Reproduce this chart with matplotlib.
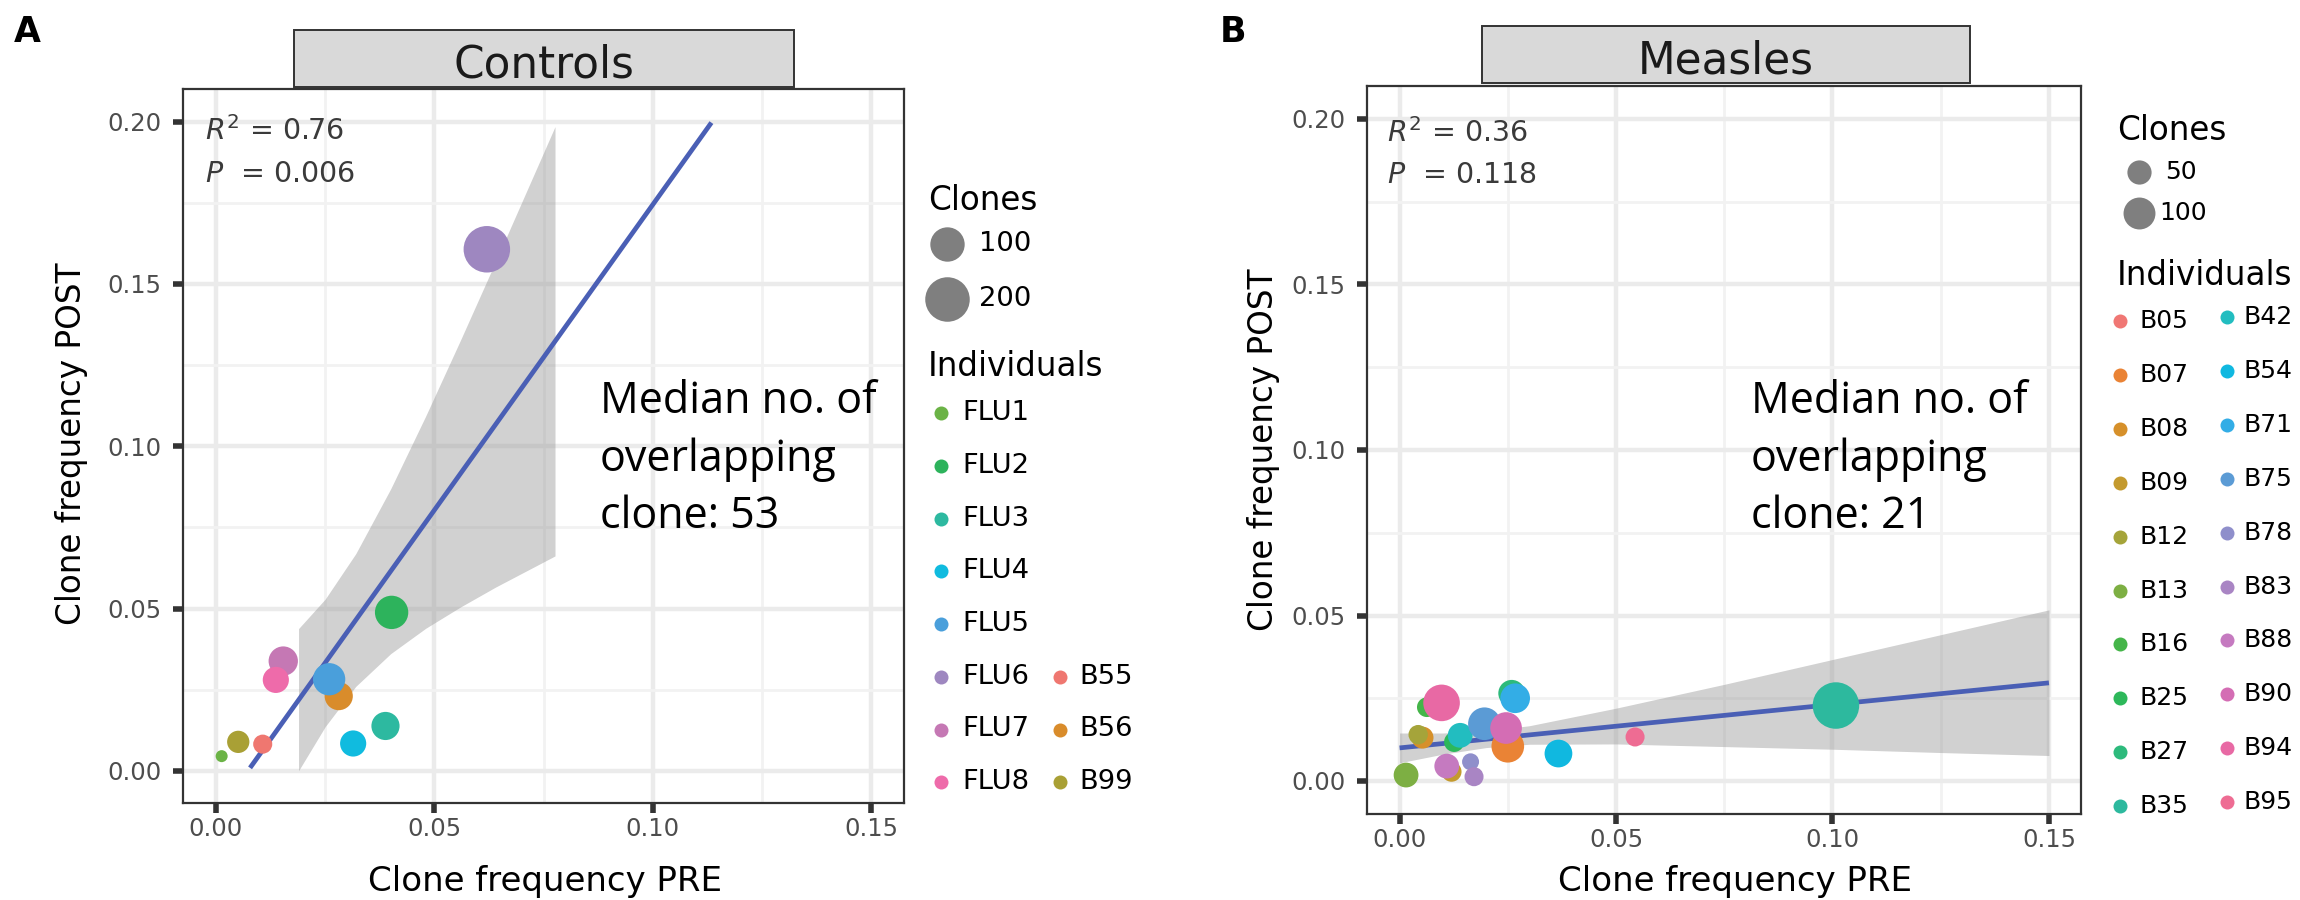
import numpy as np
import matplotlib
matplotlib.use("Agg")
import matplotlib.pyplot as plt
from matplotlib.patches import Rectangle

# ---------------- data: panel A (Controls) ----------------
ctrl_ids = ["B55", "B56", "B99", "FLU1", "FLU2", "FLU3", "FLU4", "FLU5", "FLU6", "FLU7", "FLU8"]
ctrl_pre = [0.0107, 0.0281, 0.0051, 0.0013, 0.0402, 0.0388, 0.0314, 0.0259, 0.0620, 0.0154, 0.0137]
ctrl_post = [0.0082, 0.0230, 0.0089, 0.0045, 0.0488, 0.0138, 0.0084, 0.0282, 0.1607, 0.0338, 0.0280]
ctrl_clones = [19, 57, 29, 10, 92, 57, 46, 84, 224, 64, 46]
ctrl_fit = dict(slope=1.883, intercept=-0.0138, x0=0.0078, x1=0.1134)
ctrl_band_x = [0.0189, 0.025, 0.032, 0.040, 0.048, 0.056, 0.064, 0.0776]
ctrl_band_lo = [0.0000, 0.0136, 0.0260, 0.0361, 0.0439, 0.0505, 0.0566, 0.0662]
ctrl_band_hi = [0.0438, 0.0529, 0.0669, 0.0869, 0.1093, 0.1328, 0.1569, 0.1985]
ctrl_stats = ("0.76", "0.006")
ctrl_median = 53
ctrl_size_legend = [100, 200]

# ---------------- data: panel B (Measles) ----------------
meas_ids = ["B05", "B07", "B08", "B09", "B12", "B13", "B16", "B25", "B27", "B35",
            "B42", "B54", "B71", "B75", "B78", "B83", "B88", "B90", "B94", "B95"]
meas_pre = [0.0248, 0.0250, 0.0053, 0.0120, 0.0043, 0.0015, 0.0063, 0.0126, 0.0259, 0.1008,
            0.0140, 0.0367, 0.0267, 0.0196, 0.0164, 0.0172, 0.0109, 0.0246, 0.0097, 0.0544]
meas_post = [0.0112, 0.0105, 0.0131, 0.0028, 0.0140, 0.0018, 0.0223, 0.0118, 0.0265, 0.0228,
             0.0138, 0.0083, 0.0250, 0.0173, 0.0058, 0.0013, 0.0045, 0.0160, 0.0236, 0.0133]
meas_clones = [20, 106, 40, 33, 31, 53, 32, 33, 64, 260,
               53, 70, 83, 106, 25, 30, 53, 98, 142, 30]
meas_fit = dict(slope=0.131, intercept=0.0100, x0=0.0, x1=0.15)
meas_band_x = [0.0, 0.01, 0.02, 0.03, 0.05, 0.075, 0.10, 0.125, 0.15]
meas_band_lo = [0.0055, 0.0081, 0.0101, 0.0111, 0.0112, 0.0104, 0.0096, 0.0086, 0.0077]
meas_band_hi = [0.0145, 0.0145, 0.0151, 0.0167, 0.0220, 0.0292, 0.0367, 0.0442, 0.0517]
meas_stats = ("0.36", "0.118")
meas_median = 21
meas_size_legend = [50, 100]

x_ticks = [0.00, 0.05, 0.10, 0.15]
y_ticks = [0.00, 0.05, 0.10, 0.15, 0.20]
x_lim = (-0.0075, 0.1575)
y_lim = (-0.01, 0.21)

# ---------------- styles ----------------
ctrl_colors = {"B55": "#EF7770", "B56": "#D98C2B", "B99": "#A9A035", "FLU1": "#6BB346",
               "FLU2": "#2DB35C", "FLU3": "#2DB9A0", "FLU4": "#10BBDF", "FLU5": "#4A9FDB",
               "FLU6": "#9E87C0", "FLU7": "#C578B4", "FLU8": "#EE6BAA"}
meas_colors = {"B05": "#F07774", "B07": "#EA8335", "B08": "#D6902A", "B09": "#C49A2E",
               "B12": "#A5A43A", "B13": "#7DAF43", "B16": "#45B549", "B25": "#2DB85A",
               "B27": "#2DBA7C", "B35": "#2DB99E", "B42": "#22BDC0", "B54": "#10B8E0",
               "B71": "#33ADE6", "B75": "#5B9BD5", "B78": "#8F8FCB", "B83": "#A985C4",
               "B88": "#C57AC0", "B90": "#D46DB4", "B94": "#E869A4", "B95": "#EE6C93"}

DPI = 100
W, H = 2300, 900
plt.rcParams['font.family'] = ['DejaVu Sans']
fig = plt.figure(figsize=(W / DPI, H / DPI), dpi=DPI)


def px2pt(px):
    return px * 72.0 / DPI


def size_px(v, vmin, vmax, dmin=12.0, dmax=46.5):
    frac = (np.asarray(v, float) - vmin) / (vmax - vmin)
    return dmin + (dmax - dmin) * np.sqrt(np.clip(frac, 0, None))


def area(d_px):
    return px2pt(np.asarray(d_px, float)) ** 2


def panel(rect, ids, pre, post, clones, colors, fit, bx, blo, bhi):
    ax = fig.add_axes(rect)
    ax.set_xlim(*x_lim)
    ax.set_ylim(*y_lim)
    ax.set_xticks(x_ticks)
    ax.set_yticks(y_ticks)
    ax.set_xticklabels([f"{t:.2f}" for t in x_ticks])
    ax.set_yticklabels([f"{t:.2f}" for t in y_ticks])
    ax.set_xticks([0.025, 0.075, 0.125], minor=True)
    ax.set_yticks([0.025, 0.075, 0.125, 0.175], minor=True)
    ax.set_axisbelow(True)
    ax.grid(which='major', color='#EBEBEB', lw=3.2)
    ax.grid(which='minor', color='#F2F2F2', lw=2.0)
    ax.tick_params(which='minor', length=0)
    ax.tick_params(which='major', color='#333333', width=4, length=7,
                   labelsize=17.5, labelcolor='#4D4D4D')
    ax.tick_params(axis='x', pad=3)
    ax.tick_params(axis='y', pad=8.5)
    for s in ax.spines.values():
        s.set_color('#333333')
        s.set_linewidth(1.6)
    # confidence band, fit line, points
    ax.fill_between(bx, blo, bhi, color='#999999', alpha=0.45, lw=0, zorder=2)
    xs = np.array([fit['x0'], fit['x1']])
    ax.plot(xs, fit['intercept'] + fit['slope'] * xs, color='#4A5FB5', lw=3.4,
            solid_capstyle='butt', zorder=3)
    vmin, vmax = min(clones), max(clones)
    d = size_px(clones, vmin, vmax)
    ax.scatter(pre, post, s=area(d), c=[colors[i] for i in ids], linewidths=0, zorder=4)
    return ax, vmin, vmax


def fig_rect(l, t, r, b):
    return [l / W, 1 - b / H, (r - l) / W, (b - t) / H]


axA, vminA, vmaxA = panel(fig_rect(183.2, 89.3, 904.1, 803.2), ctrl_ids, ctrl_pre, ctrl_post,
                          ctrl_clones, ctrl_colors, ctrl_fit, ctrl_band_x, ctrl_band_lo, ctrl_band_hi)
axB, vminB, vmaxB = panel(fig_rect(1367.1, 85.9, 2081.4, 814.1), meas_ids, meas_pre, meas_post,
                          meas_clones, meas_colors, meas_fit, meas_band_x, meas_band_lo, meas_band_hi)

# ---------------- overlay in pixel coordinates ----------------
ov = fig.add_axes([0, 0, 1, 1])
ov.set_xlim(0, W)
ov.set_ylim(H, 0)
ov.axis('off')

# panel letters
ov.text(14, 42, "A", fontsize=25, fontweight='bold', va='baseline', ha='left')
ov.text(1220, 42, "B", fontsize=25, fontweight='bold', va='baseline', ha='left')

# strips
for (l, t, r, b, label) in [(294, 30, 794, 87, "Controls"), (1482, 26, 1970, 83, "Measles")]:
    ov.add_patch(Rectangle((l, t), r - l, b - t, facecolor='#D9D9D9', edgecolor='#333333', lw=1.4))
    ov.text((l + r) / 2, b - 9, label, fontsize=31.5, ha='center', va='baseline', color='#1A1A1A')

# axis titles
for (cx, cy, yx, yy) in [(545, 881, 72, 444), (1735, 882, 1264, 450)]:
    ov.text(cx, cy, "Clone frequency PRE", fontsize=24.5, ha='center', va='center')
    ov.text(yx, yy, "Clone frequency POST", fontsize=23.5, ha='center', va='center', rotation=90)

# statistics
for (x, y1, y2, st) in [(205, 140, 182, ctrl_stats), (1387, 142, 183, meas_stats)]:
    ov.text(x, y1, r"$R^2$ = " + st[0], fontsize=20.5, color='#3A3A3A', va='baseline')
    ov.text(x, y2, r"$P$  = " + st[1], fontsize=20.5, color='#3A3A3A', va='baseline')

# median annotation
for (x, med) in [(600, ctrl_median), (1751, meas_median)]:
    for k, line in enumerate(["Median no. of", "overlapping", f"clone: {med}"]):
        ov.text(x, 413 + 57.5 * k, line, fontsize=31, family=['Open Sans', 'DejaVu Sans'],
                va='baseline', ha='left', color='black')


# legends
def legend(x_title, y_clones, size_vals, vmin, vmax, size_rows, size_mx, size_lx,
           y_ind, col_rows, mx, lx, colors, lab_fs):
    ov.text(x_title, y_clones, "Clones", fontsize=23.5, va='baseline')
    for v, yy in zip(size_vals, size_rows):
        ov.scatter([size_mx], [yy], s=area(size_px([v], vmin, vmax)), color='#7F7F7F', linewidths=0)
        ov.text(size_lx if v >= 100 else size_lx + 6, yy, str(v), fontsize=lab_fs, va='center')
    ov.text(x_title, y_ind, "Individuals", fontsize=23.5, va='baseline')
    for col, (items, rows) in enumerate(col_rows):
        for it, yy in zip(items, rows):
            ov.scatter([mx[col]], [yy], s=area([14]), color=colors[it], linewidths=0)
            ov.text(lx[col], yy, it, fontsize=lab_fs, va='center')


flu = [i for i in ctrl_ids if i.startswith("FLU")]
bs = [i for i in ctrl_ids if not i.startswith("FLU")]
rowsA = [413.3 + 52.7 * k for k in range(8)]
legend(928, 210, ctrl_size_legend, vminA, vmaxA, [244, 299], 947, 979,
       376, [(flu, rowsA), (bs, rowsA[-len(bs):])], [941, 1060], [962, 1079], ctrl_colors, 19.7)

rowsB1 = [321 + 53.9 * k for k in range(10)]
rowsB2 = [317 + 53.9 * k for k in range(10)]
legend(2117, 140, meas_size_legend, vminB, vmaxB, [172, 212.5], 2139, 2159,
       285, [(meas_ids[:10], rowsB1), (meas_ids[10:], rowsB2)], [2120, 2227], [2139, 2244], meas_colors, 18)

fig.savefig("out.png", dpi=DPI)
